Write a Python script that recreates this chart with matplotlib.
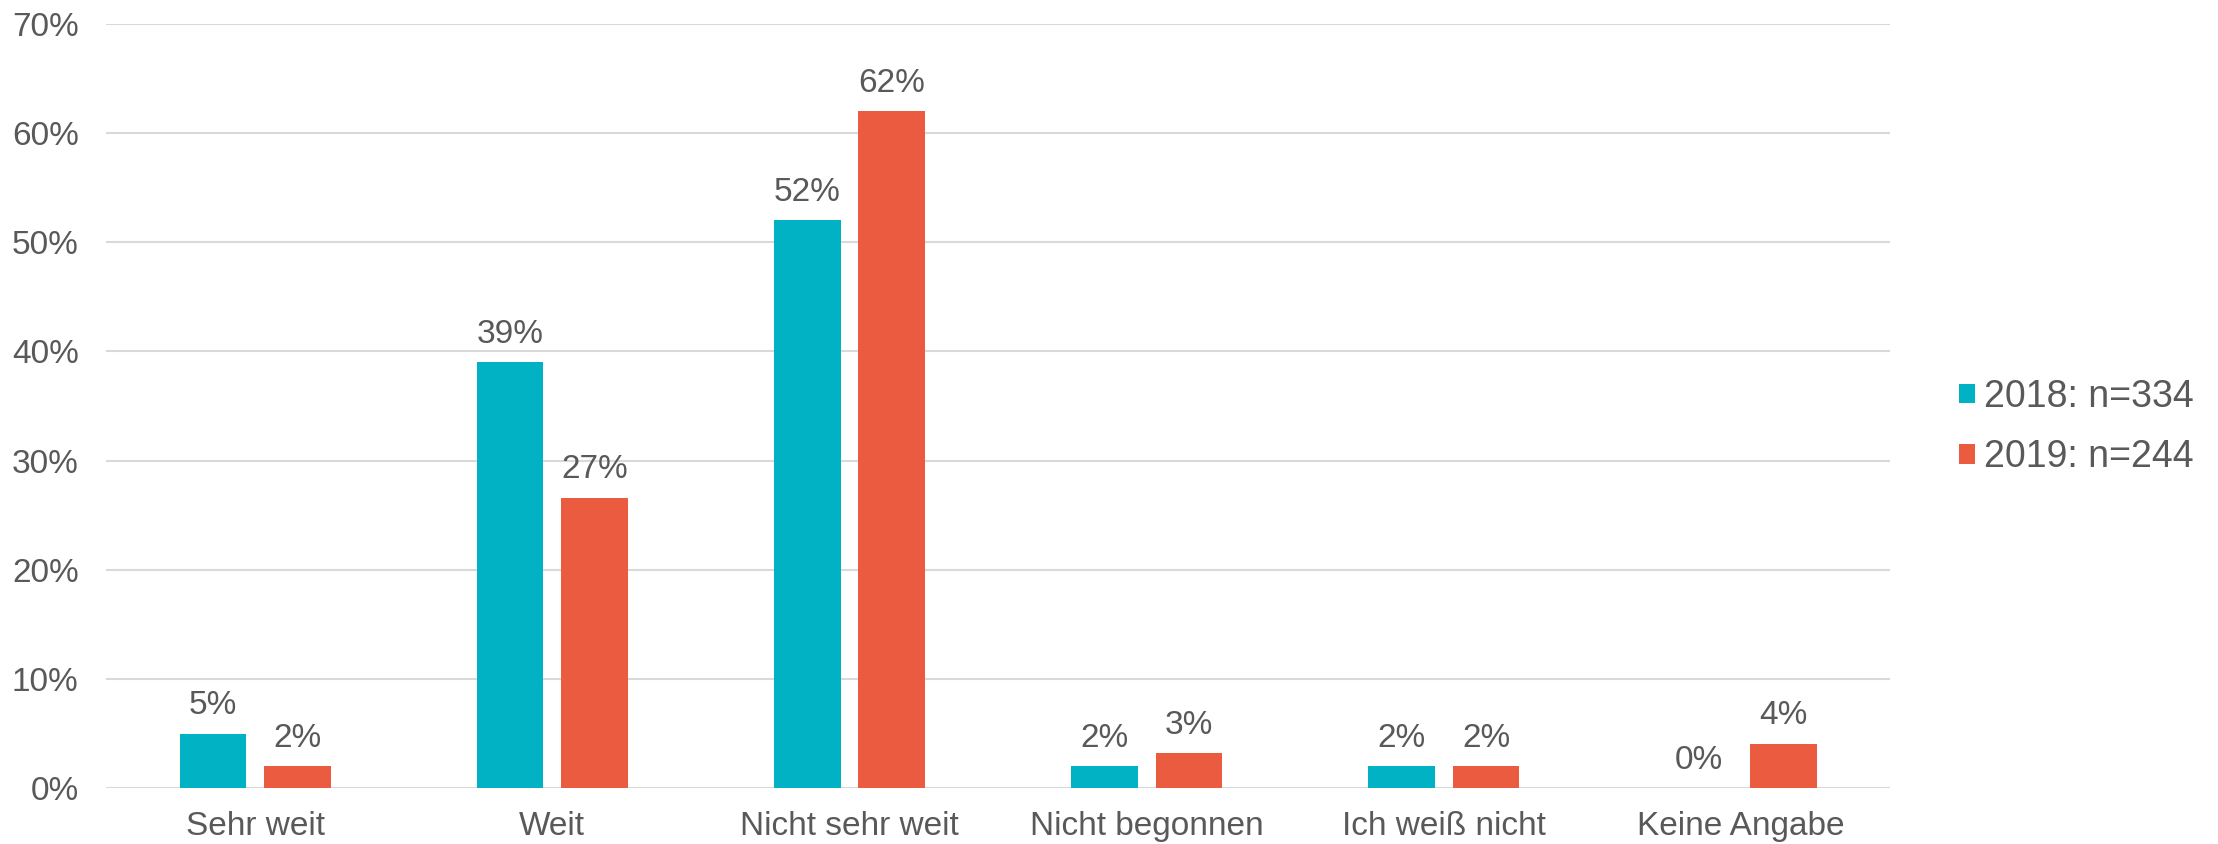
import numpy as np
import matplotlib.pyplot as plt
from matplotlib.patches import Patch

# Data
categories = ['Sehr weit', 'Weit', 'Nicht sehr weit', 'Nicht begonnen', 'Ich weiß nicht', 'Keine Angabe']
values_2018 = [5.0, 39.0, 52.0, 2.0, 2.0, 0.0]
values_2019 = [2.0, 26.6, 62.0, 3.2, 2.0, 4.1]
series_labels = ['2018: n=334', '2019: n=244']
y_ticks = [0, 10, 20, 30, 40, 50, 60, 70]

teal = '#00B2C4'
orange = '#EB5B3F'
text_gray = '#595959'
grid_gray = '#D9D9D9'

plt.rcParams['font.family'] = ['Liberation Sans', 'DejaVu Sans']

fig = plt.figure(figsize=(22.18, 8.44), dpi=100)
ax = fig.add_axes([0.048, 0.066, 0.804, 0.906])

x = np.arange(len(categories))
width = 0.224
offset = 0.142

bars1 = ax.bar(x - offset, values_2018, width, color=teal, zorder=3)
bars2 = ax.bar(x + offset, values_2019, width, color=orange, zorder=3)

# Value labels above each bar
for bars, vals in [(bars1, values_2018), (bars2, values_2019)]:
    for b, v in zip(bars, vals):
        ax.annotate(f'{round(v):.0f}%', (b.get_x() + b.get_width() / 2, v),
                    xytext=(0, 9), textcoords='offset points',
                    ha='center', va='bottom', fontsize=24, color=text_gray)

ax.set_xlim(-0.5, len(categories) - 0.5)
ax.set_ylim(0, 70)
ax.set_yticks(y_ticks)
ax.set_yticklabels([f'{t}%' for t in y_ticks])
ax.set_xticks(x)
ax.set_xticklabels(categories)
ax.tick_params(axis='both', length=0, labelsize=24, labelcolor=text_gray)
ax.tick_params(axis='y', pad=20)
ax.tick_params(axis='x', pad=16)

ax.yaxis.grid(True, color=grid_gray, linewidth=1.5, zorder=0)
for s in ax.spines.values():
    s.set_visible(False)

handles = [Patch(facecolor=teal), Patch(facecolor=orange)]
fig.legend(handles, series_labels, loc='center left', bbox_to_anchor=(0.868, 0.494),
           frameon=False, fontsize=27, labelcolor=text_gray,
           handlelength=0.43, handleheight=0.43, handletextpad=0.25, labelspacing=0.65)

fig.savefig('out.png', dpi=100)
